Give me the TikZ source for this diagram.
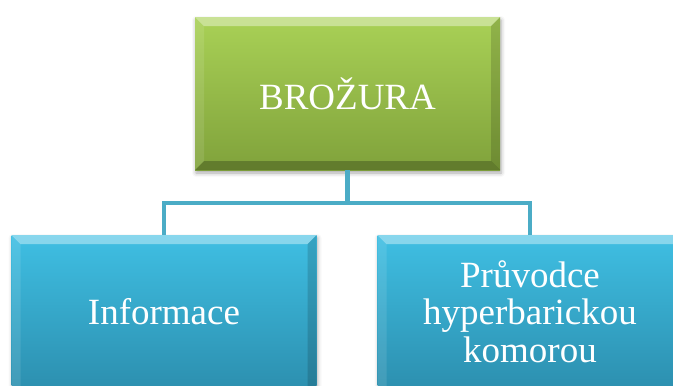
\documentclass[tikz,border=0pt]{standalone}
\usepackage{fontspec}
\setmainfont{Liberation Serif}
\usetikzlibrary{shadows.blur}

\definecolor{greenTop}{HTML}{A9D156}
\definecolor{greenBot}{HTML}{80A23B}
\definecolor{blueTop}{HTML}{3FBFE3}
\definecolor{blueBot}{HTML}{2D93B4}
\definecolor{linkBlue}{HTML}{4BACC6}

\tikzset{
  bevel/.style={path picture={
    \coordinate (bnw) at (path picture bounding box.north west);
    \coordinate (bne) at (path picture bounding box.north east);
    \coordinate (bsw) at (path picture bounding box.south west);
    \coordinate (bse) at (path picture bounding box.south east);
    % top edge (lit)
    \fill[white,opacity=0.38] (bnw) -- (bne) -- ([shift={(-9,9)}]bne) -- ([shift={(9,9)}]bnw) -- cycle;
    % left edge (slightly lit)
    \fill[white,opacity=0.10] (bnw) -- ([shift={(9,9)}]bnw) -- ([shift={(9,-9)}]bsw) -- (bsw) -- cycle;
    % right edge (shaded)
    \fill[black,opacity=0.14] (bne) -- ([shift={(-9,9)}]bne) -- ([shift={(-9,-9)}]bse) -- (bse) -- cycle;
    % bottom edge (dark)
    \fill[black,opacity=0.24] (bsw) -- ([shift={(9,-9)}]bsw) -- ([shift={(-9,-9)}]bse) -- (bse) -- cycle;
  }},
  box/.style={rectangle, minimum width=305pt, minimum height=153pt,
    inner sep=0pt, align=center, text=white,
    font=\fontsize{37}{37.5}\selectfont, bevel,
    blur shadow={shadow xshift=1pt, shadow yshift=-3pt, shadow blur radius=4pt, shadow opacity=35}},
  greenbox/.style={box, top color=greenTop, bottom color=greenBot},
  bluebox/.style={box, minimum height=166pt, top color=blueTop, bottom color=blueBot!95!black},
  boxtext/.style={inner sep=0pt, align=center, text=white, font=\fontsize{37}{37.5}\selectfont},
  link/.style={draw=linkBlue, line width=4.5pt, line join=miter}
}

\begin{document}
\begin{tikzpicture}[x=1pt, y=-1pt]
  \useasboundingbox (0,0) rectangle (673,386);
  \clip (0,0) rectangle (673,386);

  % organisation chart: one root, two children
  \node[greenbox] (root) at (347.5,93.5) {BROŽURA};
  \node[bluebox] (info) at (164,318) {};
  \node[bluebox] (guide) at (530,318) {};
  \node[boxtext] (infotext) at (164,311.5) {Informace};
  \node[boxtext] (guidetext) at (530,311.5) {Průvodce\\hyperbarickou\\komorou};
  \coordinate (split) at (347.5,203);

  % tree connectors
  \draw[link] (root.south) -- (split);
  \draw[link] (split) -| (info.north);
  \draw[link] (split) -| (guide.north);
\end{tikzpicture}
\end{document}
